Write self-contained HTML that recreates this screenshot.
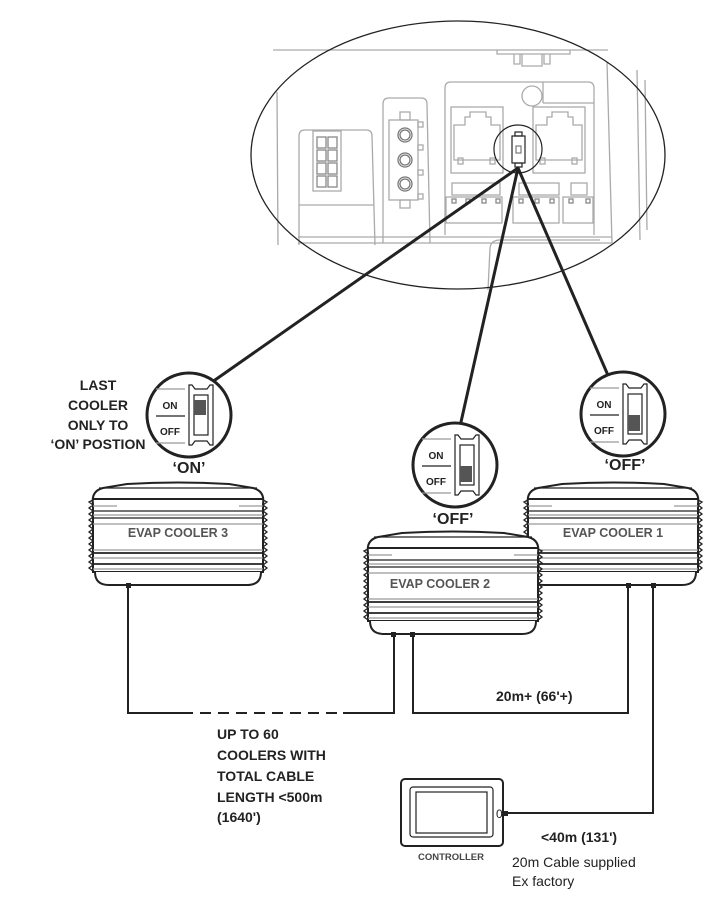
<!DOCTYPE html>
<html><head><meta charset="utf-8"><style>
html,body{margin:0;padding:0;background:#fff}
svg{display:block}
text{font-family:"Liberation Sans",Arial,sans-serif;fill:#222}
.b{font-weight:bold}
</style></head><body>
<svg width="715" height="902" viewBox="0 0 715 902" xmlns="http://www.w3.org/2000/svg">
<defs>
<g id="cooler">
  <path d="M6,22 Q4,9 16,6 L40,2 Q91,-1 142,2 L166,6 Q178,9 176,22 L176,90 L6,90 Z" fill="#fff" stroke="#222" stroke-width="2"/>
  <path d="M8,90 Q8,103 22,103 L160,103 Q174,103 174,90" fill="#fff" stroke="#222" stroke-width="2"/>
  <polyline points="6,18 2,20 6,23 2,26 6,29 2,32 6,35 2,38 6,41 2,44 6,47 2,50 6,53 2,56 6,59 2,62 6,65 2,68 6,71 2,74 6,77 2,80 6,83 2,86 6,89" fill="none" stroke="#222" stroke-width="1.3"/>
  <polyline points="176,18 180,20 176,23 180,26 176,29 180,32 176,35 180,38 176,41 180,44 176,47 180,50 176,53 180,56 176,59 180,62 176,65 180,68 176,71 180,74 176,77 180,80 176,83 180,86 176,89" fill="none" stroke="#222" stroke-width="1.3"/>
  <g stroke="#222" stroke-width="1.2">
    <line x1="12" y1="6" x2="170" y2="6"/>
    <line x1="6" y1="17" x2="176" y2="17" stroke-width="2"/>
    <line x1="6" y1="24" x2="30" y2="24" stroke="#999"/><line x1="152" y1="24" x2="176" y2="24" stroke="#999"/>
    <line x1="6" y1="29" x2="176" y2="29"/>
    <line x1="6" y1="33" x2="176" y2="33" stroke="#999"/>
    <line x1="6" y1="36" x2="176" y2="36"/>
    <line x1="6" y1="42" x2="176" y2="42" stroke="#999"/>
    <line x1="6" y1="68" x2="176" y2="68" stroke="#999"/>
    <line x1="6" y1="71" x2="176" y2="71" stroke-width="1.8"/>
    <line x1="6" y1="76" x2="176" y2="76" stroke="#999"/>
    <line x1="6" y1="82" x2="176" y2="82" stroke-width="1.8"/>
    <line x1="6" y1="87" x2="176" y2="87" stroke="#999"/>
  </g>
</g>
<g id="swframe">
  <circle cx="0" cy="0" r="42" fill="#fff" stroke="#222" stroke-width="3"/>
  <line x1="-33" y1="-26" x2="-4" y2="-26" stroke="#999" stroke-width="1.2"/>
  <line x1="-33" y1="1" x2="-4" y2="1" stroke="#222" stroke-width="1.2"/>
  <line x1="-33" y1="28" x2="-4" y2="28" stroke="#999" stroke-width="1.2"/>
  <text x="-19" y="-6" font-size="10" class="b" text-anchor="middle">ON</text>
  <text x="-19" y="20" font-size="10" class="b" text-anchor="middle">OFF</text>
  <path d="M0,-30 L3,-30 L6,-26 L18,-26 L21,-30 L24,-30 L24,30 L21,30 L18,26 L6,26 L3,30 L0,30 Z" fill="#fff" stroke="#222" stroke-width="1.2"/>
  <rect x="5" y="-20" width="14" height="40" fill="#fff" stroke="#222" stroke-width="1.2"/>
</g>
</defs>

<!-- ellipse detail -->
<g fill="none" stroke="#aaa" stroke-width="1.3">
  <line x1="273" y1="50" x2="608" y2="50"/>
  <path d="M497,50 L497,54 L570,54 L570,50"/>
  <path d="M514,54 L514,64 L520,64 L520,54 M550,54 L550,64 L544,64 L544,54 M522,54 L522,66 L542,66 L542,54"/>
  <line x1="277" y1="92" x2="278" y2="245"/>
  <line x1="607" y1="62" x2="612" y2="243"/>
  <line x1="637" y1="70" x2="640" y2="240"/>
  <line x1="645" y1="80" x2="647" y2="230"/>
  <path d="M299,245 L299,136 Q299,130 305,130 L366,130 Q372,130 372,136 L375,245"/>
  <line x1="299" y1="205" x2="374" y2="205"/>
  <rect x="313" y="131" width="28" height="60"/>
  <g stroke="#888">
    <rect x="317" y="137" width="9" height="11"/><rect x="328" y="137" width="9" height="11"/>
    <rect x="317" y="150" width="9" height="11"/><rect x="328" y="150" width="9" height="11"/>
    <rect x="317" y="163" width="9" height="11"/><rect x="328" y="163" width="9" height="11"/>
    <rect x="317" y="176" width="9" height="11"/><rect x="328" y="176" width="9" height="11"/>
  </g>
  <path d="M383,243 L383,104 Q383,98 389,98 L421,98 Q427,98 427,104 L430,243"/>
  <rect x="389" y="120" width="29" height="80"/>
  <rect x="400" y="112" width="10" height="8"/><rect x="400" y="200" width="10" height="8"/>
  <rect x="418" y="122" width="5" height="5"/><rect x="418" y="145" width="5" height="5"/><rect x="418" y="170" width="5" height="5"/><rect x="418" y="194" width="5" height="5"/>
  <g stroke="#777"><circle cx="405" cy="135" r="7"/><circle cx="405" cy="135" r="5"/><circle cx="405" cy="160" r="7"/><circle cx="405" cy="160" r="5"/><circle cx="405" cy="184" r="7"/><circle cx="405" cy="184" r="5"/></g>
  <path d="M445,235 L445,88 Q445,82 451,82 L588,82 Q594,82 594,88 L594,235"/>
  <line x1="543" y1="82" x2="543" y2="103"/><line x1="543" y1="103" x2="594" y2="103"/>
  <circle cx="532" cy="96" r="10"/>
  <rect x="451" y="107" width="52" height="66"/>
  <path d="M454,160 L454,125 L465,125 L465,117 L470,117 L470,112 L486,112 L486,117 L491,117 L491,125 L500,125 L500,160 Z"/>
  <rect x="458" y="158" width="5" height="6"/><rect x="490" y="158" width="5" height="6"/>
  <rect x="533" y="107" width="52" height="66"/>
  <path d="M536,160 L536,125 L547,125 L547,117 L552,117 L552,112 L568,112 L568,117 L573,117 L573,125 L582,125 L582,160 Z"/>
  <rect x="540" y="158" width="5" height="6"/><rect x="572" y="158" width="5" height="6"/>
  <rect x="452" y="183" width="48" height="12"/><rect x="519" y="183" width="40" height="12"/><rect x="571" y="183" width="16" height="12"/>
  <rect x="446" y="197" width="56" height="26"/><rect x="513" y="197" width="46" height="26"/><rect x="563" y="197" width="30" height="26"/>
  <g stroke="#888"><rect x="452" y="199" width="4" height="4"/><rect x="466" y="199" width="4" height="4"/><rect x="482" y="199" width="4" height="4"/><rect x="496" y="199" width="4" height="4"/><rect x="519" y="199" width="4" height="4"/><rect x="535" y="199" width="4" height="4"/><rect x="550" y="199" width="4" height="4"/><rect x="569" y="199" width="4" height="4"/><rect x="586" y="199" width="4" height="4"/></g>
  <line x1="298" y1="243" x2="612" y2="243"/>
  <line x1="298" y1="237" x2="612" y2="237"/>
  <path d="M488,290 L490,248 Q491,240 500,240 L600,240"/>
</g>
<g fill="none" stroke="#222" stroke-width="1.2">
  <circle cx="518" cy="149" r="24"/>
  <rect x="512" y="136" width="13" height="27" fill="#fff"/>
  <rect x="515" y="132" width="7" height="4"/><rect x="515" y="163" width="7" height="4"/>
  <rect x="516" y="146" width="5" height="7" stroke="#777"/>
</g>
<ellipse cx="458" cy="155" rx="207" ry="134" fill="none" stroke="#222" stroke-width="1.3"/>

<!-- leader lines -->
<g stroke="#222" stroke-width="3" stroke-linecap="round">
  <line x1="518" y1="168" x2="215" y2="380"/>
  <line x1="518" y1="168" x2="461" y2="422"/>
  <line x1="518" y1="168" x2="607" y2="373"/>
</g>

<!-- switches -->
<use href="#swframe" transform="translate(189,415)"/>
<rect x="194" y="400" width="12" height="15" fill="#555"/>
<use href="#swframe" transform="translate(455,465)"/>
<rect x="460" y="466" width="12" height="16" fill="#555"/>
<use href="#swframe" transform="translate(623,414)"/>
<rect x="628" y="415" width="12" height="16" fill="#555"/>

<text x="189" y="473" font-size="16" class="b" text-anchor="middle">‘ON’</text>
<text x="453" y="524" font-size="16" class="b" text-anchor="middle">‘OFF’</text>
<text x="625" y="470" font-size="16" class="b" text-anchor="middle">‘OFF’</text>

<g font-size="14" class="b" text-anchor="middle">
  <text x="98" y="390">LAST</text>
  <text x="98" y="410">COOLER</text>
  <text x="98" y="430">ONLY TO</text>
  <text x="98" y="449">‘ON’ POSTION</text>
</g>

<!-- coolers -->
<use href="#cooler" transform="translate(87,482)"/>
<text x="178" y="537" font-size="12.5" class="b" text-anchor="middle" style="fill:#555">EVAP COOLER 3</text>
<use href="#cooler" transform="translate(522,482)"/>
<text x="613" y="537" font-size="12.5" class="b" text-anchor="middle" style="fill:#555">EVAP COOLER 1</text>
<use href="#cooler" transform="translate(362,531)"/>
<text x="440" y="588" font-size="12.5" class="b" text-anchor="middle" style="fill:#555">EVAP COOLER 2</text>

<!-- cables -->
<g fill="#222">
  <rect x="126" y="583" width="5" height="5"/>
  <rect x="391" y="632" width="5" height="5"/><rect x="410" y="632" width="5" height="5"/>
  <rect x="626" y="583" width="5" height="5"/><rect x="651" y="583" width="5" height="5"/>
  <rect x="503" y="811" width="5" height="5"/>
</g>
<g fill="none" stroke="#222" stroke-width="2">
  <path d="M128,586 L128,713 L182,713"/>
  <line x1="182" y1="713" x2="343" y2="713" stroke-dasharray="11 7"/>
  <path d="M343,713 L394,713 L394,635"/>
  <path d="M413,635 L413,713 L628,713 L628,586"/>
  <path d="M653,586 L653,813 L505,813"/>
</g>

<text x="496" y="701" font-size="14" class="b">20m+ (66'+)</text>
<g font-size="14" class="b">
  <text x="217" y="739">UP TO 60</text>
  <text x="217" y="760">COOLERS WITH</text>
  <text x="217" y="781">TOTAL CABLE</text>
  <text x="217" y="802">LENGTH &lt;500m</text>
  <text x="217" y="822">(1640')</text>
</g>

<!-- controller -->
<rect x="401" y="779" width="102" height="67" rx="4" fill="#fff" stroke="#222" stroke-width="2"/>
<rect x="410" y="787" width="83" height="50" rx="3" fill="none" stroke="#222" stroke-width="1.2"/>
<rect x="416" y="792" width="71" height="41" fill="none" stroke="#222" stroke-width="1.2"/>
<text x="496" y="818" font-size="12">0</text>
<text x="451" y="860" font-size="9.5" class="b" text-anchor="middle" style="fill:#444">CONTROLLER</text>
<text x="541" y="842" font-size="14" class="b">&lt;40m (131')</text>
<text x="512" y="867" font-size="14">20m Cable supplied</text>
<text x="512" y="886" font-size="14">Ex factory</text>
</svg>
</body></html>
